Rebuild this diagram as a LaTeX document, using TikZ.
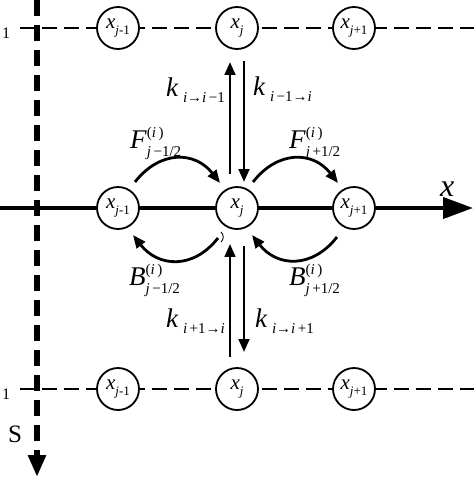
\documentclass[tikz,border=0pt]{standalone}
\usepackage{fontspec}
\setmainfont{Liberation Serif}
\usetikzlibrary{arrows.meta,calc}
\newcommand{\cx}[1]{{\fontsize{21}{21}\selectfont\textit{x}\raisebox{-5.5pt}{\fontsize{13}{13}\selectfont #1}}}
\newcommand{\klab}[1]{{\fontsize{27}{27}\selectfont\textit{k}\,\raisebox{-6pt}{\fontsize{15}{15}\selectfont #1}}}
\newcommand{\flab}[2]{{\fontsize{27}{27}\selectfont\textit{#1}\rlap{\raisebox{11pt}{\fontsize{15}{15}\selectfont(\textit{i}\,)}}\raisebox{-8pt}{\fontsize{15}{15}\selectfont #2}}}
\tikzset{
  site/.style={circle, draw, line width=1.8pt, fill=white, minimum size=42pt, inner sep=0pt},
  arr/.style={line width=2.8pt, -{Triangle[length=13pt,width=10.5pt]}},
  rowline/.style={line width=1.8pt, dash pattern=on 15pt off 7pt},
  sline/.style={line width=5.5pt, dash pattern=on 16pt off 9pt, -{Triangle[length=22pt,width=17pt]}},
  xline/.style={line width=4pt, -{Triangle[length=30pt,width=21pt]}},
  lab/.style={anchor=base west, inner sep=0pt}
}
\begin{document}
\begin{tikzpicture}[x=1pt,y=-1pt]
\useasboundingbox (0,0) rectangle (474,477);
% axes and row lines
\coordinate (tl) at (20,28);  \coordinate (tr) at (474,28);
\coordinate (bl) at (20,389); \coordinate (br) at (474,389);
\coordinate (xl) at (0,208);  \coordinate (xr) at (473,208);
\coordinate (st) at (37,0);   \coordinate (sb) at (37,477);
\draw[rowline] (tl) -- (tr);
\draw[rowline] (bl) -- (br);
\draw[xline] (xl) -- (xr);
\draw[sline] (st) -- (sb);
% sites
\node[site] (a1) at (118,28)  {\cx{\textit{j}-1}};
\node[site] (a2) at (237,28)  {\cx{\textit{j}}};
\node[site] (a3) at (354,28)  {\cx{\textit{j}+1}};
\node[site] (b1) at (118,208) {\cx{\textit{j}-1}};
\node[site] (b2) at (237,208) {\cx{\textit{j}}};
\node[site] (b3) at (354,208) {\cx{\textit{j}+1}};
\node[site] (c1) at (118,389) {\cx{\textit{j}-1}};
\node[site] (c2) at (237,389) {\cx{\textit{j}}};
\node[site] (c3) at (354,389) {\cx{\textit{j}+1}};
% vertical transfers
\draw[arr] ([shift={(-7,-12)}]b2.north) -- ([shift={(-7,12)}]a2.south);
\draw[arr] ([shift={(7,11)}]a2.south) -- ([shift={(7,-4)}]b2.north);
\draw[arr] ([shift={(-7,-10)}]c2.north) -- ([shift={(-7,14)}]b2.south);
\draw[arr] ([shift={(7,16)}]b2.south) -- ([shift={(7,-15)}]c2.north);
% forward / backward fluxes
\draw[arr] ([shift={(17,-26)}]b1.center) .. controls +(25,-32) and +(-25,-32) .. ([shift={(-17,-25)}]b2.center);
\draw[arr] ([shift={(16,-26)}]b2.center) .. controls +(25,-32) and +(-25,-32) .. ([shift={(-16,-25)}]b3.center);
\draw[arr] ([shift={(-19,30)}]b2.center) .. controls +(-25,32) and +(25,32) .. ([shift={(15,27)}]b1.center);
\draw[arr] ([shift={(-17,29)}]b3.center) .. controls +(-25,32) and +(25,32) .. ([shift={(15,27)}]b2.center);
\draw[line width=0.9pt] (221,232) .. controls (224,235) and (224,239) .. (221,242);
% labels
\node[lab] (k1) at (166,96)  {\klab{\textit{i}→\textit{i}\,−1}};
\node[lab] (k2) at (253,95)  {\klab{\textit{i}\,−1→\textit{i}}};
\node[lab] (k3) at (166,327) {\klab{\textit{i}\,+1→\textit{i}}};
\node[lab] (k4) at (255,327) {\klab{\textit{i}→\textit{i}\,+1}};
\node[lab] (f1) at (130,148) {\flab{F}{\textit{j}\,−1/2}};
\node[lab] (f2) at (289,148) {\flab{F}{\textit{j}\,+1/2}};
\node[lab] (g1) at (129,285) {\flab{B}{\textit{j}\,−1/2}};
\node[lab] (g2) at (289,285) {\flab{B}{\textit{j}\,+1/2}};
\node[lab] (xlab) at (440,196) {\fontsize{32}{32}\selectfont\textit{x}};
\node[lab] (slab) at (8,442) {\fontsize{25}{25}\selectfont S};
\node[lab] (one1) at (2,38) {\fontsize{16}{16}\selectfont 1};
\node[lab] (one2) at (2,399) {\fontsize{16}{16}\selectfont 1};
\end{tikzpicture}
\end{document}
